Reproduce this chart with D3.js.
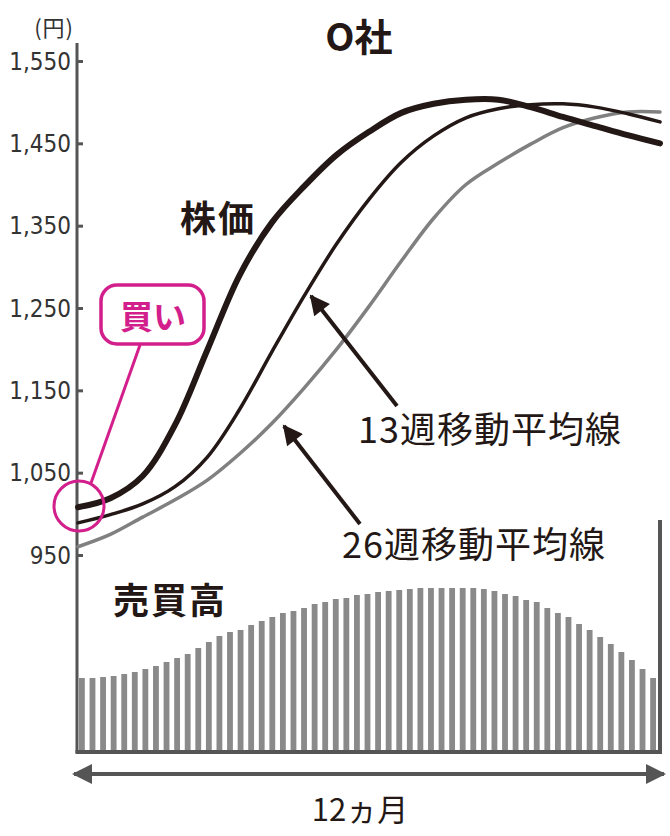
<!DOCTYPE html>
<html><head><meta charset="utf-8">
<script src="https://cdn.jsdelivr.net/npm/d3@7"></script>
<style>
html,body{margin:0;padding:0;background:#fff;}
svg{display:block;}
text{font-family:"Noto Sans CJK JP","Noto Sans",sans-serif;}
</style></head>
<body>
<svg id="c" width="670" height="836"></svg>
<script>
// ---- data ----
const title = "O社";
const unitLabel = "(円)";
const yTicks = [950, 1050, 1150, 1250, 1350, 1450, 1550];
const sampleWeeks = [0,3,6,9,12,15,18,21,24,27,30,33,36,39,42,45,48,51,54];
const price = [1008,1019,1046,1108,1199,1290,1354,1398,1436,1464,1487,1498,1503,1503,1494,1482,1471,1460,1450];
const ma13  = [989,999,1012,1033,1069,1127,1197,1265,1328,1382,1427,1459,1481,1492,1497,1498,1494,1486,1476];
const ma26  = [960,975,996,1017,1041,1073,1110,1153,1200,1252,1307,1359,1400,1426,1449,1469,1481,1488,1488];
const volume = [72,72,73,74,76,78,81,84,88,92,96,102,108,114,118,120,125,129,133,137,139,142,146,148,151,152,155,156,158,159,160,161,162,162,162,162,162,162,161,159,156,154,150,148,142,137,133,126,120,113,106,98,90,81,72];
const labelPrice = "株価";
const labelMA13 = "13週移動平均線";
const labelMA26 = "26週移動平均線";
const labelVolume = "売買高";
const labelBuy = "買い";
const labelPeriod = "12ヵ月";

// ---- layout ----
const svg = d3.select("#c");
const axisColor = "#555", ink = "#231815", magenta = "#d21f8c", barColor = "#8a8a8a", grayLine = "#808080";

const y = d3.scaleLinear().domain([950, 1550]).range([555, 61]);
const x = d3.scaleLinear().domain([0, 54]).range([78, 660]);
const xb = d3.scaleBand().domain(d3.range(volume.length)).range([79, 656]).paddingInner(0.45);
const yv = d3.scaleLinear().domain([0, 162]).range([750, 588]);

// volume bars
svg.append("g").selectAll("rect").data(volume).join("rect")
  .attr("x", (d,i) => xb(i)).attr("width", xb.bandwidth())
  .attr("y", d => yv(d)).attr("height", d => yv(0) - yv(d))
  .attr("fill", barColor);

// axes frame
svg.append("line").attr("x1",77).attr("x2",77).attr("y1",43).attr("y2",753)
  .attr("stroke",axisColor).attr("stroke-width",3);
svg.append("line").attr("x1",75.5).attr("x2",662).attr("y1",752).attr("y2",752)
  .attr("stroke",axisColor).attr("stroke-width",4);
svg.append("line").attr("x1",660).attr("x2",660).attr("y1",520).attr("y2",754)
  .attr("stroke",axisColor).attr("stroke-width",4);

// y axis ticks
const yAxis = d3.axisRight(y).tickValues(yTicks).tickSize(6).tickFormat("");
const ga = svg.append("g").attr("transform","translate(77,0)").call(yAxis);
ga.select(".domain").remove();
ga.selectAll(".tick line").attr("stroke",axisColor).attr("stroke-width",3);
svg.append("g").selectAll("text").data(yTicks).join("text")
  .attr("x",71).attr("y",d=>y(d)).attr("dy","0.36em")
  .attr("text-anchor","end")
  .style("font-family","'Liberation Sans Narrow','DejaVu Sans Condensed',sans-serif")
  .style("font-size","24px").attr("fill","#333")
  .text(d3.format(","));
svg.append("text").attr("x",74).attr("y",36).attr("text-anchor","end")
  .style("font-size","22px").attr("fill","#333").style("letter-spacing","1px").text(unitLabel);

// title
svg.append("text").attr("x",359).attr("y",51).attr("text-anchor","middle")
  .style("font-size","38px").style("font-weight","bold").attr("fill",ink).text(title);

// lines
const line = d3.line().x((d,i)=>x(sampleWeeks[i])).y(d=>y(d)).curve(d3.curveCatmullRom.alpha(0.5));
svg.append("path").datum(ma26).attr("d",line).attr("fill","none")
  .attr("stroke",grayLine).attr("stroke-width",3.5).attr("stroke-linecap","round");
svg.append("path").datum(ma13).attr("d",line).attr("fill","none")
  .attr("stroke",ink).attr("stroke-width",3.5).attr("stroke-linecap","round");
svg.append("path").datum(price).attr("d",line).attr("fill","none")
  .attr("stroke",ink).attr("stroke-width",6).attr("stroke-linecap","round");

// labels
svg.append("text").attr("x",180).attr("y",232).style("letter-spacing","2px")
  .style("font-size","36px").style("font-weight","bold").attr("fill",ink).text(labelPrice);
svg.append("text").attr("x",113).attr("y",614).style("letter-spacing","2px")
  .style("font-size","36px").style("font-weight","bold").attr("fill",ink).text(labelVolume);
svg.append("text").attr("x",358).attr("y",443).style("letter-spacing","1px")
  .style("font-size","36px").attr("fill",ink).text(labelMA13);
svg.append("text").attr("x",342).attr("y",558).style("letter-spacing","1px")
  .style("font-size","36px").attr("fill",ink).text(labelMA26);

// arrows
const defs = svg.append("defs");
defs.append("marker").attr("id","ah").attr("viewBox","0 0 10 10").attr("refX",9).attr("refY",5)
  .attr("markerWidth",5.5).attr("markerHeight",5).attr("orient","auto").attr("markerUnits","strokeWidth")
  .append("path").attr("d","M0,0 L10,5 L0,10 Z").attr("fill",ink);
svg.append("line").attr("x1",397).attr("y1",406).attr("x2",311).attr("y2",296)
  .attr("stroke",ink).attr("stroke-width",4).attr("marker-end","url(#ah)");
svg.append("line").attr("x1",360).attr("y1",524).attr("x2",284).attr("y2",426)
  .attr("stroke",ink).attr("stroke-width",4).attr("marker-end","url(#ah)");

// buy annotation
svg.append("rect").attr("x",101).attr("y",285).attr("width",103).attr("height",59).attr("rx",16)
  .attr("fill","#fff").attr("stroke",magenta).attr("stroke-width",3.5);
svg.append("text").attr("x",153).attr("y",329).attr("text-anchor","middle")
  .style("font-size","33px").style("font-weight","bold").attr("fill",magenta).text(labelBuy);
svg.append("line").attr("x1",140).attr("y1",345).attr("x2",91).attr("y2",483)
  .attr("stroke",magenta).attr("stroke-width",3);
svg.append("circle").attr("cx",79).attr("cy",506).attr("r",25)
  .attr("fill","none").attr("stroke",magenta).attr("stroke-width",3);

// period arrow
defs.append("marker").attr("id","pa").attr("viewBox","0 0 10 10").attr("refX",9).attr("refY",5)
  .attr("markerWidth",5).attr("markerHeight",5).attr("orient","auto-start-reverse").attr("markerUnits","strokeWidth")
  .append("path").attr("d","M0,0 L10,5 L0,10 Z").attr("fill",axisColor);
svg.append("line").attr("x1",74).attr("x2",664).attr("y1",774).attr("y2",774)
  .attr("stroke",axisColor).attr("stroke-width",4)
  .attr("marker-start","url(#pa)").attr("marker-end","url(#pa)");
svg.append("text").attr("x",360).attr("y",821).attr("text-anchor","middle")
  .style("font-size","31px").attr("fill",ink).text(labelPeriod);
</script>
</body></html>
